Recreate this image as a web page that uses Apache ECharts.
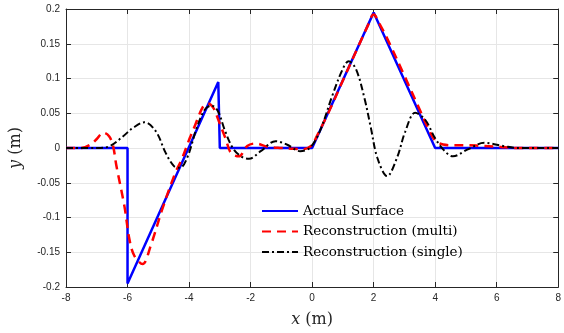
<!DOCTYPE html>
<html>
<head>
<meta charset="utf-8">
<script src="https://cdn.jsdelivr.net/npm/echarts@6/dist/echarts.min.js"></script>
<style>
 html, body { margin: 0; padding: 0; background: #fff; }
 #chart { width: 564px; height: 333px; }
</style>
</head>
<body>
<div id="chart"></div>
<script>
 // values
 var actualX = [-8, -6, -6, -3.05, -3.0, 0, 2, 4, 8];
 var actualY = [0, 0, -0.195, 0.095, 0, 0, 0.195, 0, 0];

 var multiX = [-8, -7.5, -7.2, -7.0, -6.79, -6.6, -6.47, -6.36, -6.1, -5.94, -5.78, -5.51, -5.25, -4.87, -4.45, -4.24, -3.97, -3.82, -3.55, -3.39, -3.2, -3.07, -2.8, -2.64, -2.38, -2.11, -1.84, -1.46, -1.0, -0.6, -0.3, 0, 0.13, 0.5, 1, 1.5, 1.8, 2, 2.2, 2.5, 3, 3.5, 3.8, 4, 4.26, 4.6, 5, 5.5, 6, 6.25, 6.7, 7, 8];
 var multiY = [0, 0, 0.005, 0.013, 0.022, 0.017, 0.003, -0.026, -0.084, -0.131, -0.155, -0.167, -0.141, -0.088, -0.036, -0.0165, 0.015, 0.031, 0.059, 0.064, 0.057, 0.043, 0.012, -0.007, -0.012, 0.003, 0.0065, 0.002, 0, -0.001, -0.002, 0.004, 0.015, 0.048, 0.097, 0.146, 0.175, 0.192, 0.178, 0.152, 0.104, 0.055, 0.026, 0.011, 0.005, 0.004, 0.004, 0.003, 0.002, 0.001, 0, 0, 0];

 var singleX = [-8, -7, -6.58, -6.14, -5.82, -5.45, -5.08, -4.76, -4.49, -4.3, -4.06, -3.75, -3.49, -3.27, -3.06, -2.85, -2.58, -2.31, -2.05, -1.67, -1.19, -0.82, -0.39, -0.07, 0.25, 0.67, 0.99, 1.19, 1.43, 1.7, 1.91, 2.12, 2.44, 2.76, 3.03, 3.35, 3.67, 3.99, 4.26, 4.58, 5.06, 5.6, 6.24, 6.67, 8];
 var singleY = [0, 0, 0.0026, 0.017, 0.029, 0.037, 0.024, -0.007, -0.026, -0.0285, -0.014, 0.029, 0.055, 0.061, 0.053, 0.027, 0, -0.012, -0.0155, -0.0046, 0.0098, 0.005, -0.0046, 0.0005, 0.024, 0.077, 0.113, 0.125, 0.113, 0.072, 0.029, -0.014, -0.0405, -0.014, 0.024, 0.0506, 0.041, 0.0147, -0.002, -0.012, -0.002, 0.0075, 0.0026, 0, 0];

 var names = ['Actual Surface', 'Reconstruction (multi)', 'Reconstruction (single)'];

 function pairs(xs, ys) {
   return xs.map(function (x, i) { return [x, ys[i]]; });
 }

 var axisColor = '#262626';
 var gridColor = '#e6e6e6';
 var serif = 'DejaVu Serif, Liberation Serif, serif';
 var tickFont = { color: axisColor, fontFamily: 'Liberation Sans, Arial, sans-serif', fontSize: 10 };

 var myChart = echarts.init(document.getElementById('chart'), null, { renderer: 'canvas' });

 var option = {
   backgroundColor: '#fff',
   animation: false,
   grid: { left: 62, right: 2.5, top: 9, bottom: 45.5, containLabel: false },
   legend: {
     orient: 'vertical',
     left: 256,
     top: 199,
     itemWidth: 36,
     itemHeight: 14,
     itemGap: 6.5,
     data: names,
     itemStyle: { color: 'rgba(0,0,0,0)', borderWidth: 0, opacity: 0 },
     textStyle: { fontFamily: serif, fontSize: 13.5, color: '#000' }
   },
   xAxis: [{
     type: 'value', min: -8, max: 8, interval: 2,
     name: '{i|x} (m)', nameLocation: 'middle', nameGap: 25,
     nameTextStyle: {
       fontFamily: serif, fontSize: 16, color: axisColor,
       rich: { i: { fontStyle: 'italic', fontFamily: serif, fontSize: 16, color: axisColor } }
     },
     axisLine: { onZero: false, lineStyle: { color: axisColor, width: 1 } },
     axisTick: { inside: true, length: 5, lineStyle: { color: axisColor } },
     axisLabel: Object.assign({ margin: 6 }, tickFont),
     splitLine: { show: true, lineStyle: { color: gridColor, width: 1 } }
   }, {
     type: 'value', min: -8, max: 8, interval: 2, position: 'top',
     axisLine: { onZero: false, lineStyle: { color: axisColor, width: 1 } },
     axisTick: { inside: true, length: 5, lineStyle: { color: axisColor } },
     axisLabel: { show: false },
     splitLine: { show: false }
   }],
   yAxis: [{
     type: 'value', min: -0.2, max: 0.2, interval: 0.05,
     name: '{i|y} (m)', nameLocation: 'middle', nameGap: 42, nameRotate: 90,
     nameTextStyle: {
       fontFamily: serif, fontSize: 16, color: axisColor,
       rich: { i: { fontStyle: 'italic', fontFamily: serif, fontSize: 16, color: axisColor } }
     },
     axisLine: { onZero: false, show: true, lineStyle: { color: axisColor, width: 1 } },
     axisTick: { show: true, inside: true, length: 5, lineStyle: { color: axisColor } },
     axisLabel: Object.assign({
       margin: 6,
       formatter: function (v) { return String(+v.toFixed(2)); }
     }, tickFont),
     splitLine: { show: true, lineStyle: { color: gridColor, width: 1 } }
   }, {
     type: 'value', min: -0.2, max: 0.2, interval: 0.05, position: 'right',
     axisLine: { onZero: false, show: true, lineStyle: { color: axisColor, width: 1 } },
     axisTick: { show: true, inside: true, length: 5, lineStyle: { color: axisColor } },
     axisLabel: { show: false },
     splitLine: { show: false }
   }],
   series: [{
     name: names[0],
     type: 'line',
     data: pairs(actualX, actualY),
     showSymbol: false, symbol: 'none',
     lineStyle: { color: '#0000ff', width: 2.5 },
     itemStyle: { color: '#0000ff' },
     z: 3
   }, {
     name: names[1],
     type: 'line',
     data: pairs(multiX, multiY),
     showSymbol: false, symbol: 'none',
     smooth: 0.35,
     lineStyle: { color: '#ff0000', width: 2.5, type: [9, 6] },
     itemStyle: { color: '#ff0000' },
     z: 4
   }, {
     name: names[2],
     type: 'line',
     data: pairs(singleX, singleY),
     showSymbol: false, symbol: 'none',
     smooth: 0.35,
     lineStyle: { color: '#000000', width: 2, type: [7, 3, 2, 3] },
     itemStyle: { color: '#000000' },
     z: 5
   }]
 };

 myChart.setOption(option);
</script>
</body>
</html>
